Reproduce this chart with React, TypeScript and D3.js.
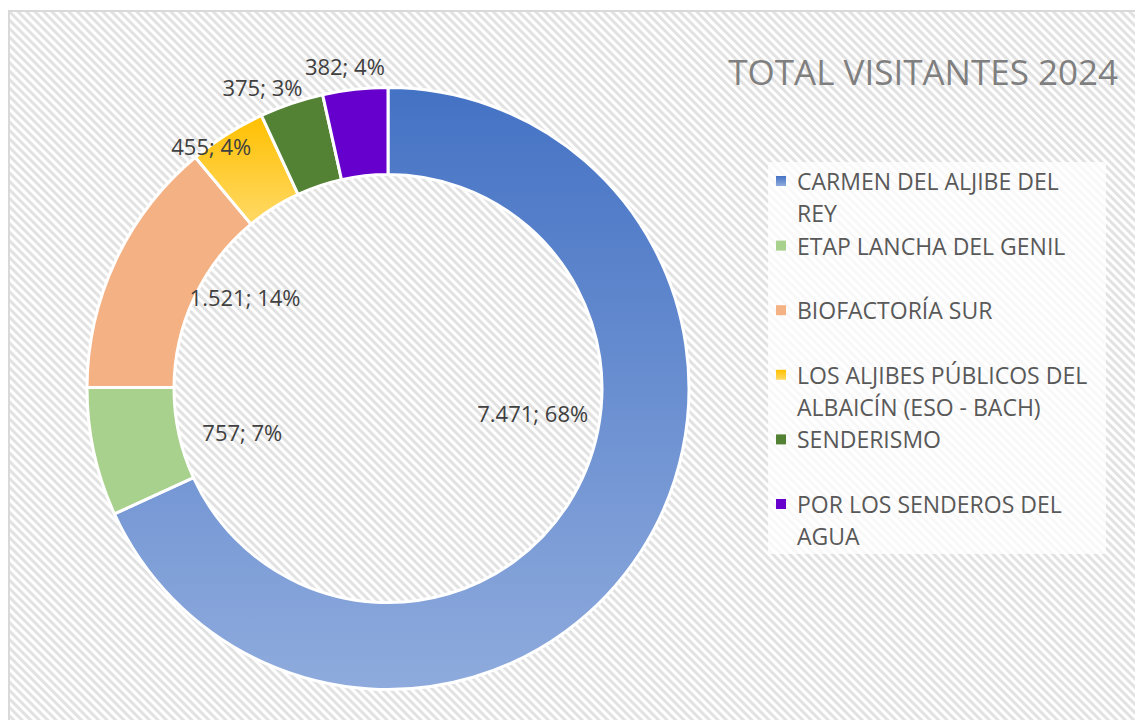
import React from "react";
import * as d3 from "d3";

const categories = [
  "CARMEN DEL ALJIBE DEL REY",
  "ETAP LANCHA DEL GENIL",
  "BIOFACTORÍA SUR",
  "LOS ALJIBES PÚBLICOS DEL ALBAICÍN (ESO - BACH)",
  "SENDERISMO",
  "POR LOS SENDEROS DEL AGUA",
];
const legendLines = [
  ["CARMEN DEL ALJIBE DEL", "REY"],
  ["ETAP LANCHA DEL GENIL"],
  ["BIOFACTORÍA SUR"],
  ["LOS ALJIBES PÚBLICOS DEL", "ALBAICÍN (ESO - BACH)"],
  ["SENDERISMO"],
  ["POR LOS SENDEROS DEL", "AGUA"],
];
const values = [7471, 757, 1521, 455, 375, 382];
const title = "TOTAL VISITANTES 2024";

// styling (kept separate from data)
const colorsTop = ["#4472c4", "#a9d18e", "#f4b183", "#ffc000", "#548235", "#6600cc"];
const colorsBottom = ["#8fabdd", "#a9d18e", "#f4b183", "#ffd966", "#548235", "#6600cc"];
const labelOffsets: [number, number][] = [
  [-72, -115],
  [106, -11],
  [90, 18],
  [-39, -25],
  [-43, -58],
  [-15, -67],
];

const W = 1135;
const H = 720;
const cx = 388;
const cy = 388.5;
const outerR = 301;
const innerR = 214;
const FONT = "'Open Sans', 'Noto Sans', sans-serif";

const fmt = (v: number) => d3.format(",")(v).replace(/,/g, ".");

// percentages rounded so that they add up to 100 (largest remainder)
function roundedPercents(vals: number[]): number[] {
  const total = d3.sum(vals);
  const raw = vals.map((v) => (v / total) * 100);
  const floors = raw.map((r) => Math.floor(r));
  let left = 100 - d3.sum(floors);
  const order = d3.range(vals.length).sort((a, b) => (raw[b] - floors[b]) - (raw[a] - floors[a]));
  for (const i of order) {
    if (left <= 0) break;
    floors[i] += 1;
    left -= 1;
  }
  return floors;
}

export default function App() {
  const pie = d3.pie<number>().sort(null).value((d) => d);
  const arcs = pie(values);
  const pcts = roundedPercents(values);
  const arcGen = d3.arc<d3.PieArcDatum<number>>().innerRadius(innerR).outerRadius(outerR);
  const midArc = d3
    .arc<d3.PieArcDatum<number>>()
    .innerRadius((innerR + outerR) / 2)
    .outerRadius((innerR + outerR) / 2);

  const legendX = 776;
  const legendY0 = 181;
  const legendStep = 64.6;
  const lineH = 32;

  return (
    <svg
      width={W}
      height={H}
      style={{ position: "absolute", left: 0, top: 0, display: "block" }}
    >
      <defs>
        <pattern id="hatch" patternUnits="userSpaceOnUse" width="6" height="6" patternTransform="rotate(45)">
          <rect width="6" height="6" fill="#ffffff" />
          <rect width="6" height="3" fill="#e2e2e2" />
        </pattern>
        {colorsTop.map((c, i) => (
          <linearGradient key={"g" + i} id={`g${i}`} x1="0" y1="0" x2="0" y2="1">
            <stop offset="0%" stopColor={c} />
            <stop offset="100%" stopColor={colorsBottom[i]} />
          </linearGradient>
        ))}
      </defs>
      <rect x={0} y={0} width={W} height={H} fill="#ffffff" />
      <rect x={9} y={11} width={W} height={H} fill="url(#hatch)" stroke="#d9d9d9" strokeWidth={2} />

      <text
        x={1118}
        y={85}
        textAnchor="end"
        fontFamily={FONT}
        fontWeight={400}
        fontSize={35}
        fill="#7f7f7f"
      >
        {title}
      </text>

      <g transform={`translate(${cx},${cy})`}>
        {arcs.map((a, i) => (
          <path
            key={i}
            d={arcGen(a) || ""}
            fill={`url(#g${i})`}
            stroke="#ffffff"
            strokeWidth={3}
            strokeLinejoin="round"
          />
        ))}
        {arcs.map((a, i) => {
          const [x, y] = midArc.centroid(a);
          return (
            <text
              key={"l" + i}
              x={x + labelOffsets[i][0]}
              y={y + labelOffsets[i][1]}
              textAnchor="middle"
              dominantBaseline="central"
              fontFamily={FONT}
              fontSize={22}
              fill="#404040"
            >
              {`${fmt(a.value)}; ${pcts[i]}%`}
            </text>
          );
        })}
      </g>

      <rect x={768} y={162} width={338} height={392} fill="#ffffff" opacity={0.75} />
      {categories.map((c, i) => {
        const y = legendY0 + i * legendStep;
        return (
          <g key={c}>
            <rect x={legendX} y={y - 5} width={10} height={10} fill={`url(#g${i})`} />
            {legendLines[i].map((ln, j) => (
              <text
                key={j}
                x={797}
                y={y + j * lineH}
                dominantBaseline="central"
                fontFamily={FONT}
                fontSize={23}
                fill="#595959"
              >
                {ln}
              </text>
            ))}
          </g>
        );
      })}
    </svg>
  );
}
